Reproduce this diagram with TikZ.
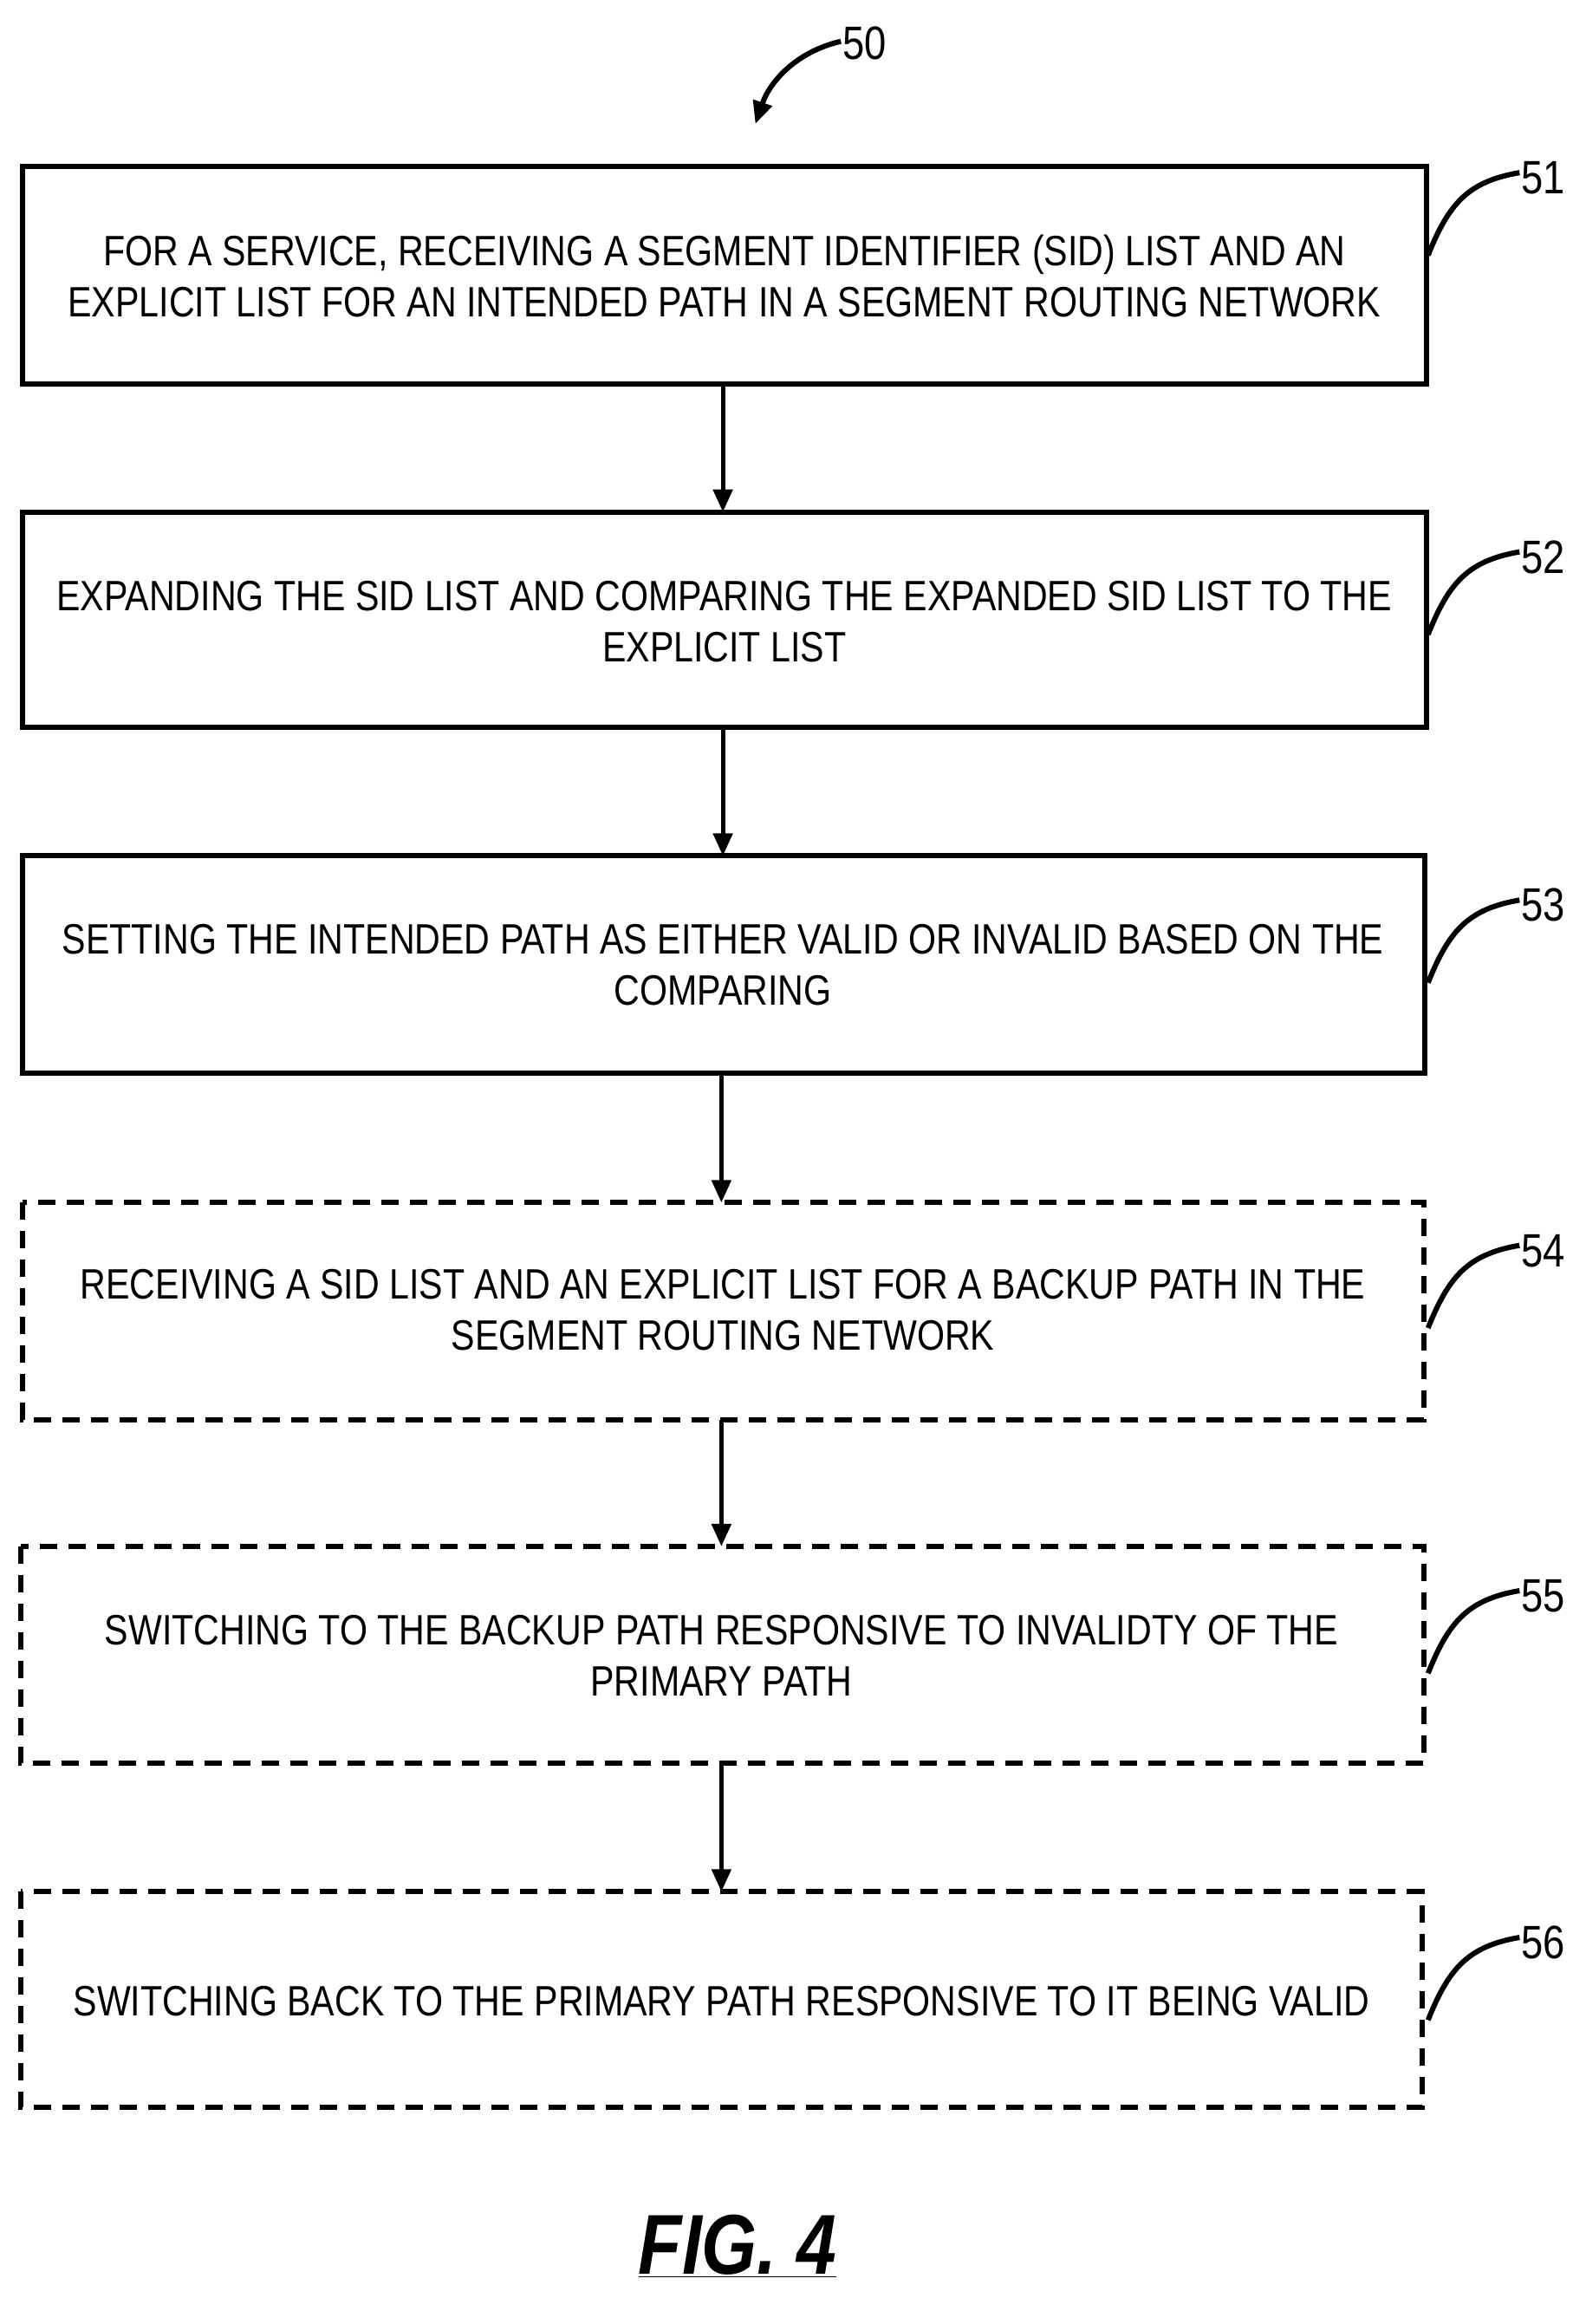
\documentclass[tikz,border=0pt]{standalone}
\usepackage{fontspec}
\setmainfont{Liberation Sans}[FakeStretch=0.84]
\usetikzlibrary{arrows.meta}
\begin{document}
\begin{tikzpicture}[x=1.7023pt,y=-1.7023pt,
  box/.style={draw,line width=6pt},
  dbox/.style={draw,line width=6pt,dash pattern=on 20pt off 13pt},
  txt/.style={align=center,font=\fontsize{49}{59}\selectfont},
  arr/.style={line width=5pt,-{Triangle[length=26pt,width=22pt]}},
  sq/.style={line width=6pt},
  lab/.style={font=\fontsize{54}{58}\selectfont,anchor=south west,inner sep=2pt}]
\useasboundingbox (0,0) rectangle (1075,1575);
\draw[box] (15,113) rectangle (967,260); \node[txt] (t1) at (491,187) {FOR A SERVICE, RECEIVING A SEGMENT IDENTIFIER (SID) LIST AND AN\\EXPLICIT LIST FOR AN INTENDED PATH IN A SEGMENT ROUTING NETWORK};
\draw[box] (15,347) rectangle (967,493); \node[txt] (t2) at (491,421) {EXPANDING THE SID LIST AND COMPARING THE EXPANDED SID LIST TO THE\\EXPLICIT LIST};
\draw[box] (15,580) rectangle (966,727); \node[txt] (t3) at (490,654) {SETTING THE INTENDED PATH AS EITHER VALID OR INVALID BASED ON THE\\COMPARING};
\draw[dbox] (15,815) rectangle (965,962); \node[txt] (t4) at (490,888) {RECEIVING A SID LIST AND AN EXPLICIT LIST FOR A BACKUP PATH IN THE\\SEGMENT ROUTING NETWORK};
\draw[dbox] (14,1048) rectangle (965,1195); \node[txt] (t5) at (489,1122) {SWITCHING TO THE BACKUP PATH RESPONSIVE TO INVALIDTY OF THE\\PRIMARY PATH};
\draw[dbox] (14,1282) rectangle (964,1428); \node[txt] (t6) at (489,1356) {SWITCHING BACK TO THE PRIMARY PATH RESPONSIVE TO IT BEING VALID};
\coordinate (a1) at (490,260); \coordinate (b1) at (490,347);
\coordinate (a2) at (490,493); \coordinate (b2) at (490,580);
\coordinate (a3) at (489,727); \coordinate (b3) at (489,815);
\coordinate (a4) at (489,962); \coordinate (b4) at (489,1048);
\coordinate (a5) at (489,1195); \coordinate (b5) at (489,1282);
\foreach \i in {1,...,5} \draw[arr] (a\i) -- (b\i);
\foreach \n/\y in {51/113,52/370,53/606,54/840,55/1074,56/1309}{
  \draw[sq] (968,\y+60) .. controls (982,\y+25) and (995,\y+10) .. (1030,\y+4);
  \node[lab] (l\n) at (1030,\y+20) {\n};}
\coordinate (c50) at (570,28);
\node[lab] (l50) at (570,42) {50};
\draw[arr,line width=6pt] (c50) .. controls (540,35) and (522,55) .. (512,84);
\node[font=\fontsize{98}{110}\selectfont\bfseries\itshape] (fig) at (500,1522) {\underline{FIG. 4}};
\end{tikzpicture}
\end{document}
